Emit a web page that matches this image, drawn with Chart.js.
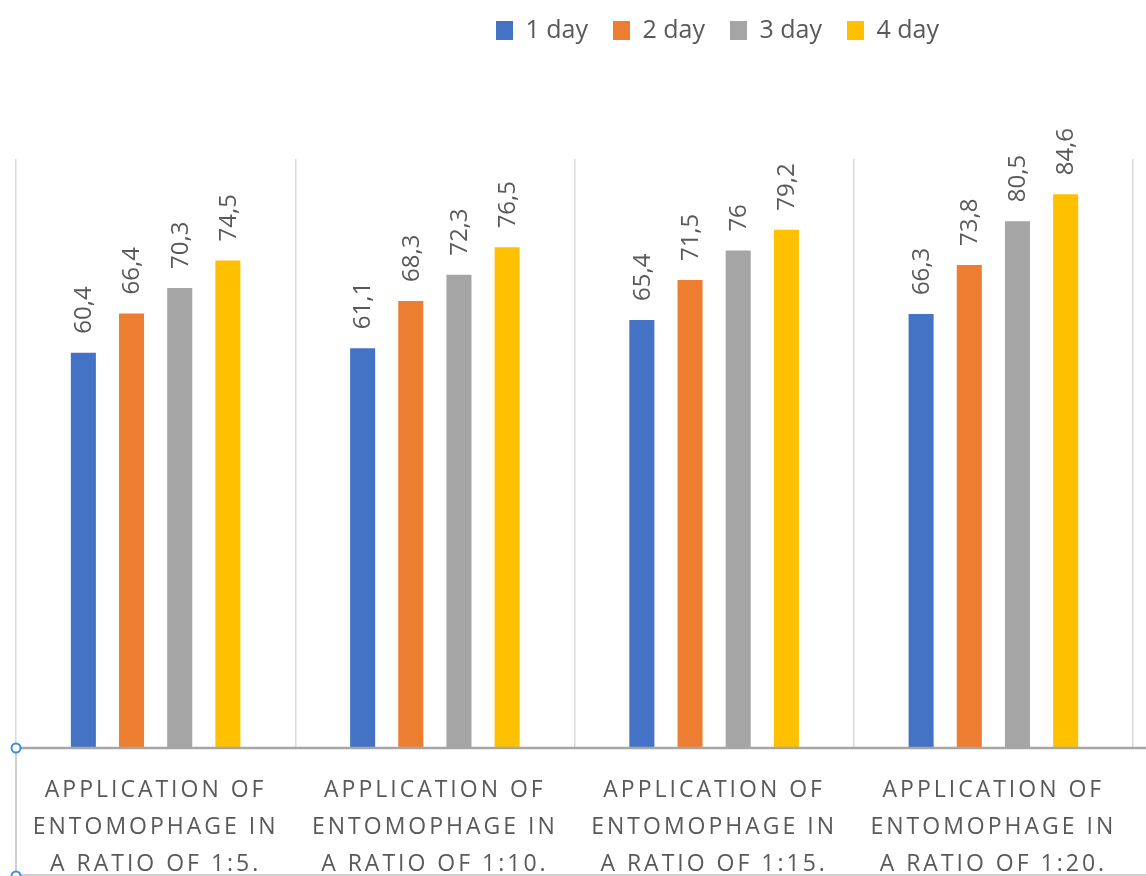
<!DOCTYPE html>
<html>
<head>
<meta charset="utf-8">
<script src="https://cdn.jsdelivr.net/npm/chart.js@4/dist/chart.umd.min.js"></script>
<style>
  html, body { margin: 0; padding: 0; background: #fff; }
  #wrap { width: 1146px; height: 876px; position: relative; }
</style>
</head>
<body>
<div id="wrap"><canvas id="entoChart"></canvas></div>
<script>
const categories = [
  ['APPLICATION OF', 'ENTOMOPHAGE IN', 'A RATIO OF 1:5.'],
  ['APPLICATION OF', 'ENTOMOPHAGE IN', 'A RATIO OF 1:10.'],
  ['APPLICATION OF', 'ENTOMOPHAGE IN', 'A RATIO OF 1:15.'],
  ['APPLICATION OF', 'ENTOMOPHAGE IN', 'A RATIO OF 1:20.'],
];
const seriesNames = ['1 day', '2 day', '3 day', '4 day'];
const day1 = [60.4, 61.1, 65.4, 66.3];
const day2 = [66.4, 68.3, 71.5, 73.8];
const day3 = [70.3, 72.3, 76, 80.5];
const day4 = [74.5, 76.5, 79.2, 84.6];
const seriesColors = ['#4472C4', '#ED7D31', '#A5A5A5', '#FFC000'];

const TEXT_GRAY = '#595959';
const FONT = '"Open Sans", sans-serif';

// подписи значений над столбиками, повернутые на 90°
const barValueLabels = {
  id: 'barValueLabels',
  afterDatasetsDraw(chart) {
    const ctx = chart.ctx;
    ctx.save();
    ctx.font = '24px ' + FONT;
    ctx.fillStyle = TEXT_GRAY;
    ctx.textAlign = 'left';
    ctx.textBaseline = 'middle';
    chart.data.datasets.forEach((ds, i) => {
      chart.getDatasetMeta(i).data.forEach((bar, j) => {
        ctx.save();
        ctx.translate(bar.x + 1, bar.y - 19);
        ctx.rotate(-Math.PI / 2);
        ctx.fillText(String(ds.data[j]).replace('.', ','), 0, 0);
        ctx.restore();
      });
    });
    ctx.restore();
  },
};

// разрядка букв в подписях категорий + сдвиг легенды вправо
const axisTweaks = {
  id: 'axisTweaks',
  beforeInit(chart) {
    const legend = chart.legend;
    const fit = legend.fit;
    legend.fit = function () {
      fit.call(this);
      this.height = 151;
    };
  },
  afterLayout(chart) {
    const lg = chart.legend;
    lg.left += 143; lg.right += 143;
    lg.top -= 15; lg.bottom -= 15;
    const sc = chart.scales.x;
    if (!sc._spaced) {
      const orig = sc.drawLabels.bind(sc);
      sc.drawLabels = function (area) {
        this.ctx.save();
        this.ctx.letterSpacing = '3px';
        orig(area);
        this.ctx.restore();
      };
      sc._spaced = true;
    }
  },
  afterDraw(chart) {
    const { ctx, chartArea: a, width, height } = chart;
    ctx.save();
    // базовая линия оси
    ctx.strokeStyle = '#A6A6A6';
    ctx.lineWidth = 2.5;
    ctx.beginPath();
    ctx.moveTo(a.left, a.bottom);
    ctx.lineTo(width, a.bottom);
    ctx.stroke();
    // рамка выделения слева
    ctx.strokeStyle = '#BFBFBF';
    ctx.lineWidth = 1.5;
    ctx.beginPath();
    ctx.moveTo(a.left, a.bottom);
    ctx.lineTo(a.left, height);
    ctx.moveTo(a.left, height - 1);
    ctx.lineTo(width, height - 1);
    ctx.stroke();
    ctx.strokeStyle = '#3C8DDC';
    ctx.fillStyle = '#fff';
    ctx.lineWidth = 2;
    [a.bottom, height].forEach(y => {
      ctx.beginPath();
      ctx.arc(a.left, y, 4.5, 0, Math.PI * 2);
      ctx.fill();
      ctx.stroke();
    });
    ctx.restore();
  },
};

const seriesData = [day1, day2, day3, day4];

new Chart(document.getElementById('entoChart'), {
  type: 'bar',
  data: {
    labels: categories,
    datasets: seriesNames.map((name, i) => ({
      label: name,
      data: seriesData[i],
      backgroundColor: seriesColors[i],
      borderWidth: 0,
      categoryPercentage: 0.69,
      barPercentage: 0.52,
    })),
  },
  options: {
    responsive: true,
    maintainAspectRatio: false,
    animation: false,
    layout: { padding: { top: 8, left: 16, right: 13, bottom: 0 } },
    scales: {
      x: {
        grid: { display: true, color: '#D9D9D9', lineWidth: 1.5, drawTicks: false, tickLength: 0 },
        border: { display: false },
        ticks: {
          color: TEXT_GRAY,
          font: { family: FONT, size: 23, lineHeight: 37 / 23 },
          padding: 24,
          maxRotation: 0,
          minRotation: 0,
          autoSkip: false,
        },
        afterFit(scale) { scale.height = 128; },
      },
      y: {
        display: false,
        min: 0,
        max: 90,
      },
    },
    plugins: {
      legend: {
        position: 'top',
        labels: {
          color: TEXT_GRAY,
          font: { family: FONT, size: 25 },
          boxWidth: 17,
          boxHeight: 19,
          padding: 25,
        },
      },
      tooltip: { enabled: false },
    },
  },
  plugins: [barValueLabels, axisTweaks],
});
</script>
</body>
</html>
